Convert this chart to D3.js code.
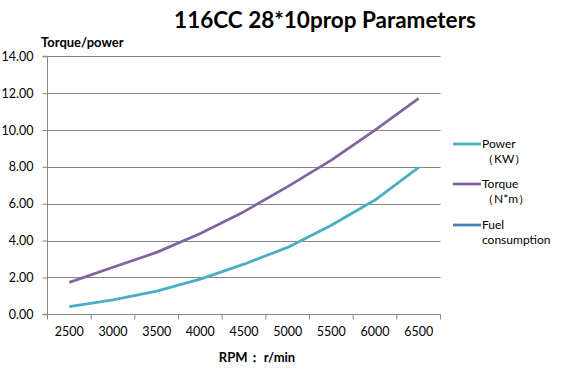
<!DOCTYPE html>
<html><head><meta charset="utf-8">
<script src="https://cdn.jsdelivr.net/npm/d3@7"></script>
<style>body{margin:0;background:#fff}svg{display:block}text{font-family:Lato,"Open Sans",sans-serif}</style>
</head><body>
<svg id="c" width="565" height="380"></svg>
<script>
const categories = ["2500","3000","3500","4000","4500","5000","5500","6000","6500"];
const powerKW = [0.42,0.78,1.26,1.91,2.72,3.63,4.83,6.20,7.97];
const torqueNm = [1.73,2.55,3.36,4.39,5.57,6.93,8.37,10.00,11.72];
const fuel = [];
const yTicks = [0,2,4,6,8,10,12,14];
const seriesNames = [["Power","（KW）"],["Torque","（N*m）"],["Fuel","consumption"]];
const colors = ["#4bacc6","#8064a2","#4a7ebb"];

const svg = d3.select("#c");
const L=47.5, R=440.5, T=56.3, B=314.3;
const x = d3.scaleBand().domain(categories).range([L,R]);
const y = d3.scaleLinear().domain([0,14]).range([B,T]);
const grey="#868686";

// gridlines
svg.append("g").selectAll("line").data(yTicks.slice(1)).join("line")
  .attr("x1",L).attr("x2",R).attr("y1",d=>Math.round(y(d))+0.5).attr("y2",d=>Math.round(y(d))+0.5)
  .attr("stroke",grey).attr("stroke-width",1);

// y axis
const ya = svg.append("g").attr("transform",`translate(${L},0)`)
  .call(d3.axisLeft(y).tickValues(yTicks).tickFormat(d3.format(".2f")).tickSize(5).tickPadding(9));
ya.select(".domain").attr("stroke",grey).attr("d",`M-5,${B}H0V${T}H-5`);
ya.selectAll(".tick line").attr("stroke",grey);
ya.selectAll(".tick text").attr("font-size",12.5).attr("fill","#000").attr("font-family","Lato, sans-serif");

// x axis
const xa = svg.append("g").attr("transform",`translate(0,${Math.round(B)+0.5})`)
  .call(d3.axisBottom(x).tickSize(0).tickPadding(13));
xa.select(".domain").attr("stroke",grey).attr("d",`M${L},0H${R}`);
xa.selectAll(".tick text").attr("font-size",12.5).attr("fill","#000");
svg.append("g").selectAll("line").data(d3.range(categories.length+1)).join("line")
  .attr("x1",i=>L+i*x.step()).attr("x2",i=>L+i*x.step())
  .attr("y1",Math.round(B)+0.5).attr("y2",Math.round(B)+5.5).attr("stroke",grey);

// lines
const line = d3.line().x((d,i)=>x(categories[i])+x.bandwidth()/2).y(d=>y(d));
[powerKW,torqueNm,fuel].forEach((s,k)=>{
  if(s.length) svg.append("path").datum(s).attr("d",line).attr("fill","none")
    .attr("stroke",colors[k]).attr("stroke-width",2.75).attr("stroke-linejoin","round");
});

// title & axis labels
svg.append("text").attr("x",325).attr("y",28).attr("text-anchor","middle")
  .attr("font-size",22.5).attr("font-weight","bold").text("116CC 28*10prop Parameters");
svg.append("text").attr("x",41).attr("y",47).attr("font-size",13).attr("font-weight","bold").text("Torque/power");
svg.append("text").attr("x",257).attr("y",362).attr("text-anchor","middle").attr("font-size",13).attr("font-weight","bold").text("RPM： r/min");

// legend
const legY=[144,184,225];
seriesNames.forEach((n,k)=>{
  const g=svg.append("g");
  g.append("line").attr("x1",453).attr("x2",481).attr("y1",legY[k]).attr("y2",legY[k])
    .attr("stroke",colors[k]).attr("stroke-width",2.75);
  g.append("text").attr("x",482).attr("y",legY[k]+4).attr("font-size",12).text(n[0]);
  g.append("text").attr("x",k===2?482:482).attr("y",legY[k]+19).attr("font-size",12).text(n[1]);
});
</script>
</body></html>
